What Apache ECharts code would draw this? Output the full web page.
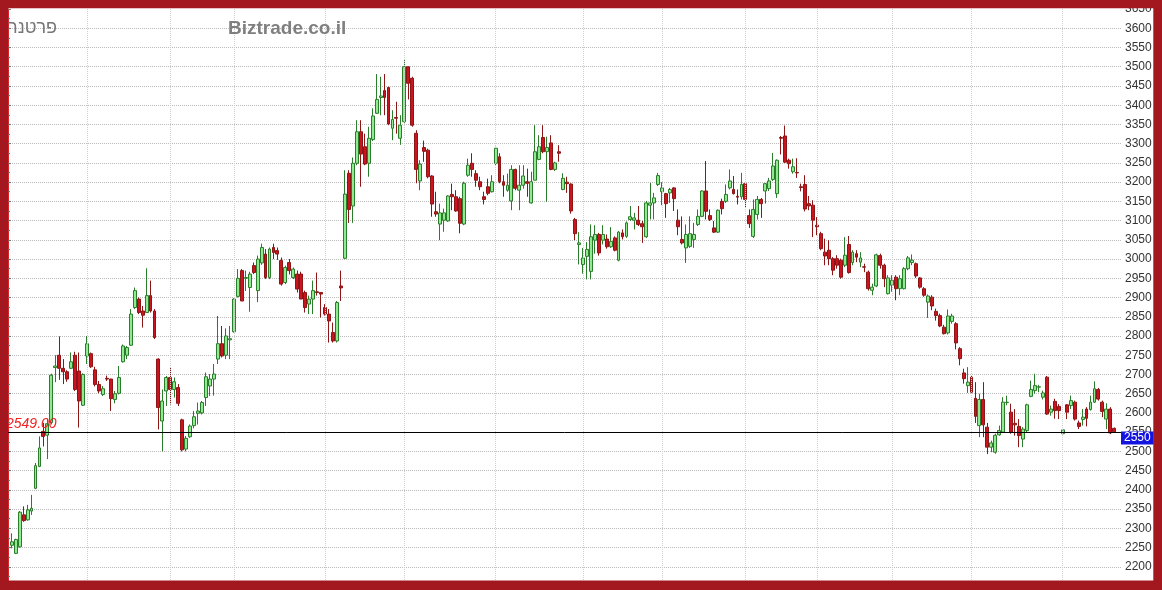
<!DOCTYPE html>
<html><head><meta charset="utf-8">
<script src="https://cdn.jsdelivr.net/npm/echarts@6/dist/echarts.min.js"></script>
<style>html,body{margin:0;padding:0;background:#fff}#c{width:1162px;height:590px}</style>
</head><body><div id="c"></div><script>
// ---- data (one entry per trading day) ----
const opens=[2256,2235,2252,2335,2322,2345,2404,2461,2552,2542,
2575,2718,2750,2716,2707,2716,2750,2709,2620,2748,
2754,2712,2674,2648,2690,2688,2635,2651,2733,2750,
2776,2874,2896,2865,2861,2905,2865,2740,2579,2657,
2692,2661,2666,2582,2506,2538,2567,2599,2600,2640,
2670,2688,2740,2780,2750,2790,2811,2903,2970,2950,
2926,2983,2918,2990,3013,2952,3030,3022,2996,2939,
2991,2952,2961,2961,2913,2883,2896,2915,2913,2874,
2857,2809,2787,2930,3002,3223,3138,3249,3331,3292,
3249,3311,3379,3420,3438,3446,3340,3368,3314,3357,
3500,3470,3327,3203,3290,3283,3216,3123,3091,3101,
3099,3168,3162,3157,3091,3218,3249,3222,3201,3162,
3188,3175,3249,3266,3201,3179,3151,3233,3179,3192,
3201,3146,3205,3259,3316,3279,3302,3233,3279,3181,
3200,3195,3103,3038,2986,3007,2968,3049,3064,3049,
3052,3032,3055,2997,3068,3059,3103,3101,3101,3092,
3058,3140,3146,3194,3175,3170,3172,3185,3101,3051,
3029,3033,3051,3090,3111,3177,3113,3081,3070,3150,
3150,3185,3181,3163,3162,3196,3113,3059,3116,3155,
3177,3183,3207,3170,3316,3320,3257,3227,3225,3188,
3194,3144,3140,3088,3066,3018,3023,3001,3001,2997,
2984,3038,2991,3014,2992,2980,2966,2919,2930,3009,
2984,2910,2932,2953,2923,2923,2975,2991,2988,2951,
2923,2888,2901,2864,2853,2823,2808,2838,2832,2767,
2704,2671,2693,2638,2567,2635,2563,2511,2498,2543,
2550,2627,2602,2573,2565,2532,2554,2643,2658,2667,
2641,2693,2602,2630,2617,2546,2621,2619,2628,2574,
2583,2610,2609,2628,2661,2628,2584,2610,2560];
const closes=[2265,2271,2342,2320,2348,2352,2463,2509,2539,2572,
2698,2722,2716,2707,2688,2733,2661,2631,2700,2780,
2720,2674,2657,2663,2688,2637,2650,2692,2774,2770,
2857,2918,2861,2854,2905,2865,2796,2614,2631,2692,
2661,2681,2625,2504,2534,2566,2590,2605,2627,2694,
2688,2701,2780,2748,2800,2793,2896,2950,2891,2952,
2961,2965,3000,3030,2952,3026,3017,3013,2935,2978,
2970,2974,2922,2896,2874,2896,2918,2913,2909,2857,
2839,2787,2887,2925,3169,3129,3249,3331,3273,3247,
3314,3372,3415,3424,3420,3351,3363,3366,3348,3500,
3457,3348,3233,3247,3280,3214,3143,3117,3120,3120,
3164,3162,3125,3093,3197,3244,3233,3205,3188,3155,
3171,3201,3288,3201,3192,3192,3233,3184,3192,3216,
3197,3201,3279,3292,3279,3290,3233,3250,3275,3210,
3196,3125,3066,3042,3003,3025,3058,3064,3016,3064,
3032,3046,3023,3070,3058,3094,3110,3107,3090,3084,
3146,3146,3159,3217,3185,3144,3181,3157,3084,3042,
3064,3066,3064,3111,3177,3124,3103,3070,3127,3131,
3168,3203,3170,3161,3194,3155,3092,3129,3155,3144,
3196,3203,3242,3257,3314,3252,3248,3240,3224,3186,
3130,3138,3101,3084,3027,3008,3001,2971,2984,2953,
3010,2965,3018,3005,3003,2979,2923,2927,3011,2984,
2949,2951,2945,2923,2949,2975,3003,2997,2956,2927,
2906,2904,2878,2853,2826,2806,2852,2852,2782,2741,
2689,2680,2654,2591,2635,2569,2511,2522,2542,2554,
2628,2628,2550,2569,2541,2558,2621,2661,2671,2668,
2652,2597,2610,2606,2606,2556,2602,2632,2584,2565,
2589,2586,2628,2663,2636,2604,2610,2548,2551];
const lows=[2248,2233,2250,2317,2320,2335,2402,2459,2513,2480,
2570,2680,2686,2675,2681,2714,2657,2562,2618,2727,
2717,2669,2651,2644,2683,2605,2625,2648,2731,2740,
2774,2870,2857,2822,2861,2861,2792,2557,2500,2618,
2622,2640,2618,2500,2500,2535,2560,2570,2596,2618,
2644,2645,2727,2744,2740,2740,2809,2900,2891,2917,
2863,2961,2888,2985,2948,2948,3000,2998,2931,2935,
2960,2948,2913,2896,2861,2857,2857,2905,2848,2853,
2783,2783,2783,2891,3000,3094,3094,3244,3188,3244,
3214,3307,3377,3374,3374,3348,3309,3326,3297,3354,
3415,3344,3197,3179,3253,3210,3110,3110,3049,3071,
3097,3127,3123,3067,3088,3214,3214,3188,3179,3142,
3166,3173,3244,3197,3162,3175,3127,3179,3127,3183,
3162,3144,3205,3257,3275,3149,3231,3229,3253,3179,
3172,3118,3049,2986,2962,2947,2947,3014,3009,3038,
3027,3029,3020,2994,3051,3055,3099,3077,3086,3042,
3055,3103,3103,3190,3140,3107,3146,3125,3062,3038,
2990,3029,3029,3086,3109,3103,3099,3068,3068,3116,
3146,3181,3168,3142,3155,3133,3081,3055,3103,3107,
3144,3177,3203,3159,3272,3250,3235,3222,3211,3176,
3124,3127,3057,3062,3023,2984,2984,2958,2975,2949,
2979,2962,2984,2992,2979,2966,2918,2906,2927,2975,
2927,2908,2915,2893,2906,2921,2971,2984,2951,2923,
2902,2847,2867,2840,2823,2804,2804,2832,2765,2724,
2676,2652,2652,2574,2537,2537,2493,2498,2494,2541,
2548,2620,2546,2541,2511,2511,2550,2641,2650,2654,
2635,2595,2593,2585,2584,2545,2584,2610,2580,2558,
2567,2565,2606,2626,2632,2589,2558,2545,2548];
const highs=[2287,2273,2345,2357,2361,2387,2470,2539,2574,2585,
2702,2750,2799,2740,2711,2757,2759,2757,2703,2800,
2757,2720,2683,2670,2697,2689,2657,2722,2778,2774,
2870,2926,2900,2878,2976,2944,2870,2742,2661,2696,
2718,2692,2675,2585,2540,2570,2605,2627,2631,2705,
2701,2727,2852,2826,2820,2826,2898,2974,2974,2970,
2967,2991,3009,3040,3026,3030,3040,3030,3004,2983,
3000,2978,2970,2967,2918,2905,2944,2965,2913,2883,
2870,2835,2891,2970,3231,3231,3264,3361,3361,3326,
3344,3392,3481,3474,3481,3448,3387,3409,3374,3519,
3500,3474,3335,3257,3308,3287,3218,3175,3144,3131,
3166,3196,3179,3162,3201,3261,3275,3231,3214,3175,
3209,3218,3292,3275,3218,3222,3244,3235,3244,3244,
3235,3227,3348,3322,3348,3318,3322,3253,3296,3223,
3214,3197,3107,3070,3029,3044,3090,3088,3068,3088,
3064,3083,3059,3073,3077,3098,3138,3120,3138,3099,
3151,3198,3172,3224,3200,3172,3185,3187,3129,3111,
3090,3111,3094,3129,3179,3255,3129,3099,3129,3157,
3194,3233,3216,3181,3224,3198,3129,3155,3164,3159,
3198,3211,3276,3259,3320,3347,3261,3261,3262,3196,
3218,3164,3153,3109,3071,3053,3049,3005,3010,3001,
3057,3060,3023,3023,3018,2988,2970,2936,3014,3014,
2988,2958,2958,2958,2958,2979,3008,3012,2991,2953,
2927,2908,2906,2871,2858,2829,2869,2858,2836,2771,
2715,2719,2697,2680,2650,2680,2574,2528,2546,2567,
2641,2645,2624,2610,2584,2563,2624,2684,2702,2673,
2658,2696,2619,2637,2623,2557,2623,2645,2632,2580,
2610,2615,2645,2682,2665,2632,2625,2615,2562];
// index of first trading day of each month (vertical grid lines)
const monthStarts=[19,40,56,79,99,122,144,164,185,203,222,242,265];
const refPrice=2549;
const refPriceLabel='2549.00';
const lastPriceTag='2550';
const yMin=2150, yMax=3650, yStep=50;
const brandText='Biztrade.co.il';
const nameText='פרטנר';

const categories=opens.map((_,i)=>'d'+(i+1));
const candles=opens.map((o,i)=>[o,closes[i],lows[i],highs[i]]);

const frame='#a3171f';
const chart=echarts.init(document.getElementById('c'),null,{renderer:'canvas'});
const N=opens.length;
const firstX=11.7,lastX=1114.3;
const band=(lastX-firstX)/(N-1);
const option={
  animation:false,
  backgroundColor:'#ffffff',
  grid:[
    {left:8,right:41,top:9.03,bottom:3.97},
    {left:firstX-band/2,width:band*N,top:9.03,bottom:3.97}
  ],
  xAxis:[
    {type:'value',gridIndex:0,min:0,max:1,show:false},
    {type:'category',gridIndex:1,data:categories,show:false,boundaryGap:true}
  ],
  yAxis:[
    {type:'value',gridIndex:0,position:'right',min:yMin,max:yMax,interval:yStep,
     axisLine:{show:true,lineStyle:{color:'#e8262b',width:1}},
     axisTick:{show:true,length:3,lineStyle:{color:'#777'}},
     minorTick:{show:true,splitNumber:2,length:2,lineStyle:{color:'#777'}},
     axisLabel:{color:'#333',fontSize:12,margin:4,fontFamily:'"Liberation Sans", Arial, sans-serif',showMinLabel:false,
       formatter:v=>String(v)},
     splitLine:{show:true,showMaxLine:false,lineStyle:{color:'#bcbcbc',type:'dotted',width:1}}},
    {type:'value',gridIndex:1,min:yMin,max:yMax,show:false,splitLine:{show:false}}
  ],
  series:[
    {type:'line',xAxisIndex:1,yAxisIndex:1,data:[],z:1,silent:true,
     markLine:{silent:true,symbol:'none',animation:false,label:{show:false},
       lineStyle:{color:'#cfcfcf',type:'dotted',width:1},
       data:monthStarts.map(i=>({xAxis:categories[i]}))}},
    {type:'candlestick',xAxisIndex:1,yAxisIndex:1,data:candles,barWidth:3.4,z:2,
     itemStyle:{color:'#90ea90',color0:'#cc1420',borderColor:'#2a7d2a',borderColor0:'#8c1515',borderWidth:1}},
    {type:'line',xAxisIndex:0,yAxisIndex:0,data:[],z:4,silent:true,
     markLine:{silent:true,symbol:'none',animation:false,
       data:[
        {yAxis:refPrice,lineStyle:{color:'#000',type:'solid',width:1},
         label:{show:true,position:'insideStartTop',formatter:refPriceLabel,color:'#ee2222',
           fontStyle:'italic',fontSize:14,fontFamily:'"Liberation Sans", Arial, sans-serif',distance:[-2,1]}},
        {yAxis:refPrice-14,lineStyle:{color:'rgba(0,0,0,0)',width:1},
         label:{show:true,position:'end',formatter:lastPriceTag,color:'#ffffff',backgroundColor:'#1414e0',
           fontSize:12,fontFamily:'"Liberation Sans", Arial, sans-serif',padding:[1,3,0,3],distance:0}}
       ]}}
  ],
  graphic:[
    {type:'text',z:50,x:57,y:28.5,style:{text:nameText,fill:'#767676',font:'18px "Liberation Sans", "DejaVu Sans", sans-serif',align:'right',textAlign:'right',verticalAlign:'middle',textVerticalAlign:'middle'}},
    {type:'text',z:50,x:228,y:28.3,style:{text:brandText,fill:'#7f7f7f',font:'bold 19px "Liberation Sans", Arial, sans-serif',align:'left',textAlign:'left',verticalAlign:'middle',textVerticalAlign:'middle'}},
    {type:'rect',z:100,shape:{x:0,y:0,width:1162,height:8.3},style:{fill:frame}},
    {type:'rect',z:100,shape:{x:0,y:580.5,width:1162,height:9.5},style:{fill:frame}},
    {type:'rect',z:100,shape:{x:0,y:0,width:8.2,height:590},style:{fill:frame}},
    {type:'rect',z:100,shape:{x:1153.3,y:0,width:8.7,height:590},style:{fill:frame}}
  ]
};
chart.setOption(option);
</script></body></html>
